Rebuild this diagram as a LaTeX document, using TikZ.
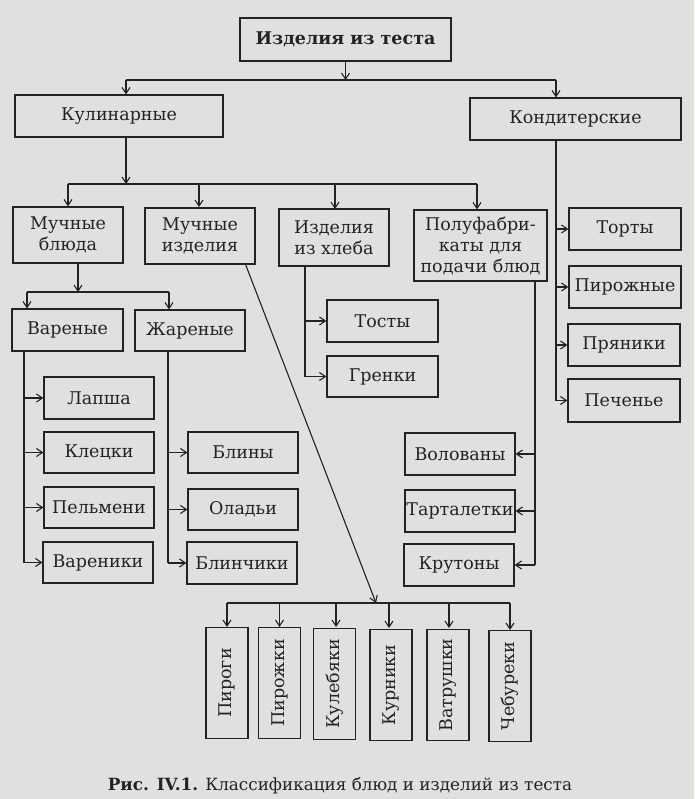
\documentclass[tikz,border=0pt]{standalone}
\usepackage{fontspec}
\setmainfont{DejaVu Serif}
\usetikzlibrary{arrows.meta}
\definecolor{paper}{RGB}{224,224,223}
\definecolor{ink}{RGB}{35,35,35}
\tikzset{
  bx/.style={draw=ink, line width=1.2pt, inner sep=0pt, align=center, text=ink,
    font=\fontsize{17.5}{21}\selectfont},
  vbx/.style={bx, minimum width=42pt, minimum height=111pt},
  ln/.style={draw=ink, line width=1.1pt},
  ar/.style={ln, -{Straight Barb[length=6pt,width=8pt,line width=1.1pt]}}
}
\newcommand{\bx}[6]{\node[bx, minimum width=#4pt, minimum height=#5pt] (#1) at (#2,#3) {#6};}
\begin{document}
\begin{tikzpicture}[x=1pt,y=-1pt]
\fill[paper] (0,0) rectangle (694,799);
\useasboundingbox (0,0) rectangle (694,799);
% boxes
\bx{top}{345.5}{39.5}{211}{43}{\textbf{Изделия из теста}}
\bx{kul}{119}{116}{208}{42}{Кулинарные}
\bx{kon}{575.5}{119}{211}{42}{Кондитерские}
\bx{mb}{68}{235}{110}{56}{Мучные\\блюда}
\bx{mi}{200}{236}{110}{56}{Мучные\\изделия}
\bx{ih}{334}{237.5}{110}{57}{Изделия\\из хлеба}
\bx{pf}{480.5}{245.5}{133}{71}{Полуфабри-\\каты для\\подачи блюд}
\bx{tort}{625}{229}{112}{42}{Торты}
\bx{pirozh}{625}{287}{112}{42}{Пирожные}
\bx{pryan}{624}{345}{112}{42}{Пряники}
\bx{pech}{624}{400.5}{112}{43}{Печенье}
\bx{var}{67.5}{330}{111}{42}{Вареные}
\bx{zhar}{190}{330.5}{110}{41}{Жареные}
\bx{lapsha}{99}{398}{110}{42}{Лапша}
\bx{kleck}{99}{452.5}{110}{41}{Клецки}
\bx{pelm}{99}{507.5}{110}{41}{Пельмени}
\bx{varen}{98}{562.5}{110}{41}{Вареники}
\bx{bliny}{243}{452.5}{110}{41}{Блины}
\bx{olad}{243}{509.5}{110}{41}{Оладьи}
\bx{blinch}{242}{563}{110}{42}{Блинчики}
\bx{tosty}{382.5}{321}{111}{42}{Тосты}
\bx{grenki}{382.5}{376.5}{111}{41}{Гренки}
\bx{volov}{460}{454}{110}{42}{Волованы}
\bx{tart}{460}{511}{110}{42}{Тарталетки}
\bx{krut}{459}{565}{110}{42}{Крутоны}
\node[vbx] (pirogi) at (227,683) {\rotatebox{90}{Пироги}};
\node[vbx] (pirozhki) at (279.5,683) {\rotatebox{90}{Пирожки}};
\node[vbx] (kuleb) at (334.5,684) {\rotatebox{90}{Кулебяки}};
\node[vbx] (kurn) at (391,685) {\rotatebox{90}{Курники}};
\node[vbx] (vatr) at (448,685) {\rotatebox{90}{Ватрушки}};
\node[vbx] (cheb) at (510,686) {\rotatebox{90}{Чебуреки}};
% junction coordinates
\coordinate (j1) at (345.5,80);
\coordinate (j1l) at (126,80);
\coordinate (j1r) at (556,80);
\coordinate (j2) at (126,184);
\coordinate (j2l) at (68,184);
\coordinate (j2r) at (477,184);
\coordinate (j3) at (78,292);
\coordinate (j3l) at (27,292);
\coordinate (j3r) at (169,292);
\coordinate (j4) at (376,603);
\coordinate (j4l) at (227,603);
\coordinate (j4r) at (510,603);
\coordinate (kv) at (556,400.5);
\coordinate (vv) at (24,562.5);
\coordinate (zv) at (168,563);
\coordinate (hv) at (305,376.5);
\coordinate (pv) at (535,565);
% top level
\draw[ar] (top.south) -- (j1);
\draw[ln] (j1l) -- (j1r);
\draw[ar] (j1l) -- (j1l |- kul.north);
\draw[ar] (j1r) -- (j1r |- kon.north);
% culinary
\draw[ar] (j2 |- kul.south) -- (j2);
\draw[ln] (j2l) -- (j2r);
\draw[ar] (j2l) -- (mb.north);
\draw[ar] (j2 -| mi.north) ++(-1,0) -- ++(0,23);
\draw[ar] (ih.north |- j2) ++(1,0) -- ++(0,25);
\draw[ar] (j2r) -- (j2r |- pf.north);
% confectionery
\draw[ln] (kon.south -| kv) -- (kv);
\draw[ar] (kv |- tort.west) -- (tort.west);
\draw[ar] (kv |- pirozh.west) -- (pirozh.west);
\draw[ar] (kv |- pryan.west) -- (pryan.west);
\draw[ar] (kv) -- (pech.west);
% мучные блюда
\draw[ar] (j3 |- mb.south) -- (j3);
\draw[ln] (j3l) -- (j3r);
\draw[ar] (j3l) -- (j3l |- var.north);
\draw[ar] (j3r) -- (j3r |- zhar.north);
\draw[ln] (var.south -| vv) -- (vv);
\draw[ar] (vv |- lapsha.west) -- (lapsha.west);
\draw[ar] (vv |- kleck.west) -- (kleck.west);
\draw[ar] (vv |- pelm.west) -- (pelm.west);
\draw[ar] (vv) -- (varen.west);
\draw[ln] (zhar.south -| zv) -- (zv);
\draw[ar] (zv |- bliny.west) -- (bliny.west);
\draw[ar] (zv |- olad.west) -- (olad.west);
\draw[ar] (zv) -- (blinch.west);
% bread
\draw[ln] (ih.south -| hv) -- (hv);
\draw[ar] (hv |- tosty.west) -- (tosty.west);
\draw[ar] (hv) -- (grenki.west);
% semi-finished
\draw[ln] (pf.south -| pv) -- (pv);
\draw[ar] (pv |- volov.east) -- (volov.east);
\draw[ar] (pv |- tart.east) -- (tart.east);
\draw[ar] (pv) -- (krut.east);
% мучные изделия
\draw[ar] (mi.south east) ++(-10,0) -- (j4);
\draw[ln] (j4l) -- (j4r);
\draw[ar] (j4l) -- (pirogi.north);
\draw[ar] (pirozhki.north |- j4) -- (pirozhki.north);
\draw[ar] (kuleb.north |- j4) ++(1.5,0) -- ++(0,24);
\draw[ar] (kurn.north |- j4) ++(-2,0) -- ++(0,25);
\draw[ar] (vatr.north |- j4) ++(1,0) -- ++(0,25);
\draw[ar] (j4r) -- (cheb.north);
% caption
\node[text=ink, font=\fontsize{16.8}{20}\selectfont] (cap) at (340,786)
  {\textbf{Рис. IV.1.} Классификация блюд и изделий из теста};
\end{tikzpicture}
\end{document}
